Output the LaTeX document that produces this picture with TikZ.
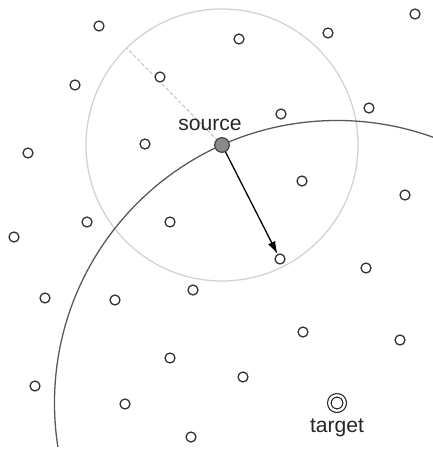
\documentclass[tikz,border=0pt]{standalone}
\usepackage{fontspec}
\setmainfont{Liberation Sans}
\usepackage{xcolor}
\usetikzlibrary{positioning,arrows.meta,calc}

\definecolor{ringgray}{HTML}{D2D2D2}
\definecolor{arcgray}{HTML}{585858}
\definecolor{dotgray}{HTML}{8A8A8A}

\begin{document}
\begin{tikzpicture}[
  x=0.03cm, y=-0.03cm,
  pt/.style={circle, draw=black!80, fill=white, line width=1.1pt,
             minimum size=0.3cm, inner sep=0pt},
  src/.style={circle, draw=black!75, fill=dotgray, line width=1pt,
             minimum size=0.44cm, inner sep=0pt},
  tgt/.style={circle, double, double distance=0.07cm, draw=black!85, fill=white,
             line width=1pt, minimum size=0.46cm, inner sep=0pt},
  lbl/.style={font=\fontsize{18}{20}\selectfont, text=black!85, inner sep=0pt, anchor=base},
  reach/.style={draw=ringgray, line width=1.1pt},
  front/.style={draw=arcgray, line width=1.1pt},
  rad/.style={draw=ringgray!90!black, dashed, dash pattern=on 3pt off 2pt, line width=0.8pt},
  arr/.style={-{Latex[length=3.8mm,width=2.4mm]}, line width=1.1pt, black},
]
\useasboundingbox (0,0) rectangle (433,449);

% source and target
\coordinate (s) at (222,145);
\coordinate (t) at (337,403);

% search radius around the source
\draw[reach] (s) circle[radius=4.08cm];
\coordinate (rim) at ($(s)+(134.5:4.08cm)$);
\draw[rad] (s) -- (rim);

% arc through the source, centred on the target
\begin{scope}
  \clip (0,0) rectangle (433,446);
  \draw[front] (t) circle[radius=8.475cm];
\end{scope}

% other points
\node[pt] (p1)  at (99,26)   {};
\node[pt] (p2)  at (239,39)  {};
\node[pt] (p3)  at (328,33)  {};
\node[pt] (p4)  at (415,14)  {};
\node[pt] (p5)  at (75,85)   {};
\node[pt] (p6)  at (160,77)  {};
\node[pt] (p7)  at (281,114) {};
\node[pt] (p8)  at (369,108) {};
\node[pt] (p9)  at (28,153)  {};
\node[pt] (p10) at (145,144) {};
\node[pt] (p11) at (302,181) {};
\node[pt] (p12) at (405,195) {};
\node[pt] (p13) at (14,237)  {};
\node[pt] (p14) at (87,222)  {};
\node[pt] (p15) at (170,222) {};
\node[pt] (p16) at (280,259) {};
\node[pt] (p17) at (366,268) {};
\node[pt] (p18) at (45,298)  {};
\node[pt] (p19) at (115,300) {};
\node[pt] (p20) at (193,290) {};
\node[pt] (p21) at (303,332) {};
\node[pt] (p22) at (400,340) {};
\node[pt] (p23) at (170,358) {};
\node[pt] (p24) at (243,377) {};
\node[pt] (p25) at (35,386)  {};
\node[pt] (p26) at (125,404) {};
\node[pt] (p27) at (191,437) {};

\node[src] (source) at (s) {};
\node[tgt] (target) at (t) {};

\node[lbl] (srclbl) at (210,130) {source};
\node[lbl] (tgtlbl) at (337,432) {target};

\draw[arr] (source) -- (p16);
\end{tikzpicture}
\end{document}
